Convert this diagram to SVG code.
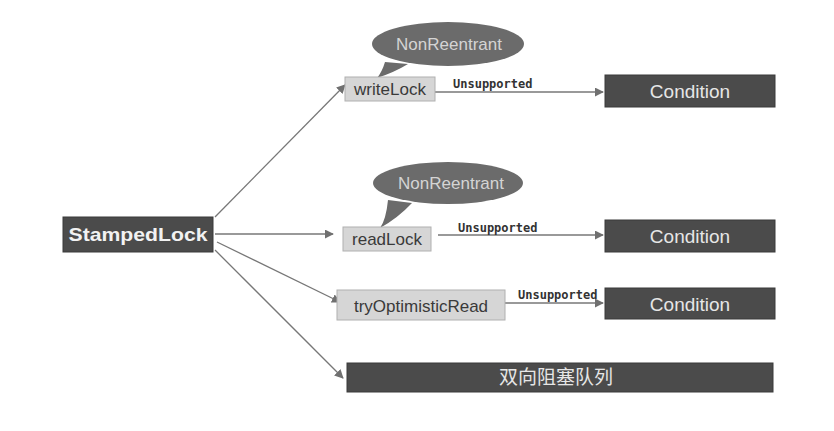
<svg xmlns="http://www.w3.org/2000/svg" width="834" height="431" viewBox="0 0 834 431">
<defs>
<marker id="arr" viewBox="0 0 10 10" refX="9" refY="5" markerWidth="9" markerHeight="9" markerUnits="userSpaceOnUse" orient="auto">
<path d="M0,0 L10,5 L0,10 z" fill="#707070"/>
</marker>
</defs>
<style>
.dark{fill:#4b4b4b;stroke:#3a3a3a;stroke-width:1}
.light{fill:#d6d6d6;stroke:#b0b0b0;stroke-width:1}
.bubble{fill:#6b6b6b}
.lt{font-family:"Liberation Sans",Arial,sans-serif;font-size:17px;fill:#3a3a3a;text-anchor:middle}
.dt{font-family:"Liberation Sans",Arial,sans-serif;font-size:19px;fill:#e6e6e6;text-anchor:middle}
.bt{font-family:"Liberation Sans",Arial,sans-serif;font-size:17px;fill:#d4d4d4;text-anchor:middle}
.mono{font-family:"DejaVu Sans Mono","Liberation Mono",monospace;font-size:12px;font-weight:bold;fill:#333}
.edge{stroke:#777;stroke-width:1.3;fill:none;marker-end:url(#arr)}
</style>
<rect width="834" height="431" fill="#ffffff"/>
<g id="connectors">
<line class="edge" x1="215" y1="217" x2="345" y2="85"/>
<line class="edge" x1="215" y1="234" x2="333" y2="234"/>
<line class="edge" x1="217" y1="242" x2="340" y2="302"/>
<line class="edge" x1="215" y1="250" x2="343" y2="378"/>
<line class="edge" x1="435" y1="92" x2="603" y2="92"/>
<line class="edge" x1="438" y1="235" x2="603" y2="235"/>
<line class="edge" x1="505" y1="303" x2="603" y2="303"/>
<text class="mono" x="453" y="88">Unsupported</text>
<text class="mono" x="458" y="232">Unsupported</text>
<text class="mono" x="518" y="299">Unsupported</text>
</g>
<g id="stampedlock">
<rect class="dark" x="63" y="217" width="150" height="35" fill="#555"/>
<text x="138" y="241" font-family="'Liberation Sans',Arial,sans-serif" font-size="19" font-weight="bold" fill="#f2f2f2" text-anchor="middle" textLength="139" lengthAdjust="spacingAndGlyphs">StampedLock</text>
</g>
<g id="writelock-bubble">
<path class="bubble" d="M385,62 Q382,72 377,78 Q395,72 408,64 z"/>
<ellipse class="bubble" cx="448" cy="44" rx="76" ry="22"/>
<text class="bt" x="449" y="50">NonReentrant</text>
</g>
<g id="writelock">
<rect class="light" x="345" y="77" width="90" height="24"/>
<text class="lt" x="390" y="95">writeLock</text>
</g>
<g id="readlock-bubble">
<path class="bubble" d="M388,200 Q386,220 380,228 Q398,218 412,203 z"/>
<ellipse class="bubble" cx="448" cy="183" rx="75" ry="21"/>
<text class="bt" x="451" y="189">NonReentrant</text>
</g>
<g id="readlock">
<rect class="light" x="343" y="227" width="88" height="24"/>
<text class="lt" x="387" y="245">readLock</text>
</g>
<g id="tryoptimisticread">
<rect class="light" x="337" y="290" width="168" height="30"/>
<text class="lt" x="421" y="312">tryOptimisticRead</text>
</g>
<g id="condition1">
<rect class="dark" x="605" y="75" width="170" height="32"/>
<text class="dt" x="690" y="98">Condition</text>
</g>
<g id="condition2">
<rect class="dark" x="605" y="220" width="170" height="32"/>
<text class="dt" x="690" y="243">Condition</text>
</g>
<g id="condition3">
<rect class="dark" x="605" y="288" width="170" height="31"/>
<text class="dt" x="690" y="311">Condition</text>
</g>
<g id="queue">
<rect class="dark" x="347" y="363" width="426" height="29"/>
<text x="556" y="384" font-family="'Noto Sans CJK SC',sans-serif" font-size="19" fill="#e6e6e6" text-anchor="middle">双向阻塞队列</text>
</g>
</svg>
